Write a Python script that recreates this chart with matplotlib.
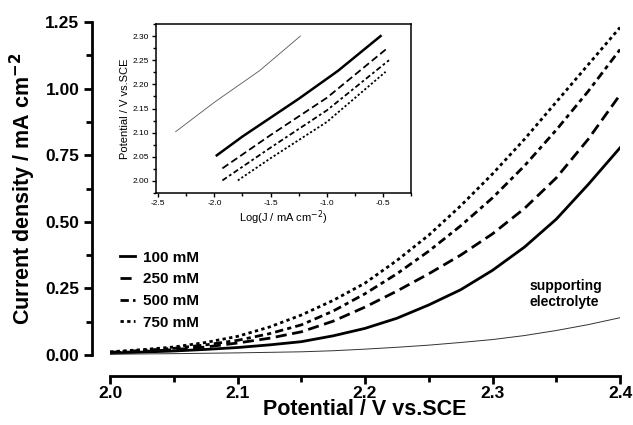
import matplotlib
matplotlib.use("Agg")
import matplotlib.pyplot as plt
from matplotlib.ticker import MultipleLocator, FormatStrFormatter

plt.rcParams['font.family'] = ['Liberation Sans', 'DejaVu Sans']

# main plot: current density vs potential
potential = [2.000, 2.025, 2.050, 2.075, 2.100, 2.125, 2.150, 2.175, 2.200,
             2.225, 2.250, 2.275, 2.300, 2.325, 2.350, 2.375, 2.400]
j_100 = [0.007, 0.011, 0.015, 0.021, 0.028, 0.038, 0.050, 0.072, 0.100,
         0.138, 0.188, 0.245, 0.318, 0.405, 0.510, 0.640, 0.778]
j_250 = [0.008, 0.013, 0.020, 0.030, 0.045, 0.063, 0.087, 0.127, 0.180,
         0.240, 0.305, 0.375, 0.455, 0.550, 0.665, 0.810, 0.977]
j_500 = [0.010, 0.017, 0.025, 0.038, 0.055, 0.080, 0.113, 0.165, 0.230,
         0.305, 0.390, 0.485, 0.590, 0.710, 0.845, 0.990, 1.147]
j_750 = [0.012, 0.020, 0.030, 0.047, 0.070, 0.105, 0.150, 0.205, 0.270,
         0.355, 0.450, 0.560, 0.680, 0.810, 0.950, 1.090, 1.230]
j_support = [0.003, 0.004, 0.005, 0.0065, 0.008, 0.010, 0.012, 0.016, 0.022,
             0.029, 0.037, 0.047, 0.058, 0.073, 0.092, 0.114, 0.140]

# inset: Tafel plot, potential vs log(J)
logj_sup = [-2.345, -1.994, -1.60, -1.235]
v_sup = [2.102, 2.164, 2.228, 2.300]
logj_100 = [-1.979, -1.75, -1.25, -0.90, -0.521]
v_100 = [2.053, 2.092, 2.170, 2.228, 2.300]
logj_250 = [-1.929, -1.50, -1.00, -0.455]
v_250 = [2.026, 2.095, 2.172, 2.276]
logj_500 = [-1.929, -1.50, -1.00, -0.446]
v_500 = [2.001, 2.069, 2.146, 2.250]
logj_750 = [-1.792, -1.50, -1.00, -0.476]
v_750 = [2.001, 2.047, 2.122, 2.226]

labels = ['100 mM', '250 mM', '500 mM', '750 mM']
styles = ['-', (0, (4, 2)), (0, (3, 1.5, 1.5, 1.5)), (0, (1.2, 1.2))]

fig = plt.figure(figsize=(6.33, 4.25), dpi=100)
ax = fig.add_axes([0.1738, 0.1647, 0.8057, 0.7833])

for y, lab, ls in zip([j_100, j_250, j_500, j_750], labels, styles):
    ax.plot(potential, y, color='black', lw=2.0, ls=ls, label=lab)
ax.plot(potential, j_support, color='#333333', lw=0.7)

ax.set_xlim(2.0, 2.4)
ax.set_ylim(0, 1.25)
for s in ['top', 'right']:
    ax.spines[s].set_visible(False)
ax.spines['left'].set_position(('outward', 13))
ax.spines['bottom'].set_position(('outward', 15))
for s in ['left', 'bottom']:
    ax.spines[s].set_linewidth(2.0)
ax.xaxis.set_major_locator(MultipleLocator(0.1))
ax.xaxis.set_minor_locator(MultipleLocator(0.05))
ax.yaxis.set_major_locator(MultipleLocator(0.25))
ax.yaxis.set_minor_locator(MultipleLocator(0.125))
ax.xaxis.set_major_formatter(FormatStrFormatter('%.1f'))
ax.yaxis.set_major_formatter(FormatStrFormatter('%.2f'))
ax.tick_params(which='major', length=6, width=2.0, labelsize=12.5, pad=3)
ax.tick_params(axis='x', which='major', pad=1)
ax.tick_params(which='minor', length=4, width=2.0)
for t in ax.get_xticklabels() + ax.get_yticklabels():
    t.set_fontweight('bold')

ax.set_xlabel('Potential / V vs.SCE', fontsize=15.5, fontweight='bold', labelpad=-1)
ax.set_ylabel('Current density / mA cm$^{\\mathbf{-2}}$', fontsize=15.5,
              fontweight='bold', labelpad=5)

ax.text(2.329, 0.229, 'supporting\nelectrolyte', fontsize=10, fontweight='bold',
        ha='left', va='center', linespacing=1.1)

leg = ax.legend(loc='upper left', bbox_to_anchor=(0.19, 0.41),
                bbox_transform=fig.transFigure, frameon=False,
                handlelength=0.95, handletextpad=0.55, labelspacing=0.5,
                borderpad=0, borderaxespad=0,
                prop={'size': 11, 'weight': 'bold'})

# inset
ins = fig.add_axes([156 / 633, 1 - 193 / 425, 255 / 633, 169 / 425])
ins.plot(logj_sup, v_sup, color='#555555', lw=0.6)
ins.plot(logj_100, v_100, color='black', lw=1.8, ls='-')
ins.plot(logj_250, v_250, color='black', lw=1.3, ls=(0, (4, 2)))
ins.plot(logj_500, v_500, color='black', lw=1.3, ls=(0, (3, 1.5, 1.5, 1.5)))
ins.plot(logj_750, v_750, color='black', lw=1.3, ls=(0, (1.2, 1.2)))
ins.set_xlim(-2.52, -0.25)
ins.set_ylim(1.975, 2.325)
for s in ins.spines.values():
    s.set_linewidth(1.1)
ins.xaxis.set_major_locator(MultipleLocator(0.5))
ins.xaxis.set_minor_locator(MultipleLocator(0.25))
ins.yaxis.set_major_locator(MultipleLocator(0.05))
ins.yaxis.set_minor_locator(MultipleLocator(0.025))
ins.xaxis.set_major_formatter(FormatStrFormatter('%.1f'))
ins.yaxis.set_major_formatter(FormatStrFormatter('%.2f'))
ins.tick_params(which='major', length=3, width=1.0, labelsize=6, pad=2)
ins.tick_params(which='minor', length=2, width=1.0)
ins.set_xlabel('Log(J / mA cm$^{-2}$)', fontsize=8, labelpad=1)
ins.set_ylabel('Potential / V vs.SCE', fontsize=8, labelpad=2)

fig.savefig('out.png', dpi=100)
